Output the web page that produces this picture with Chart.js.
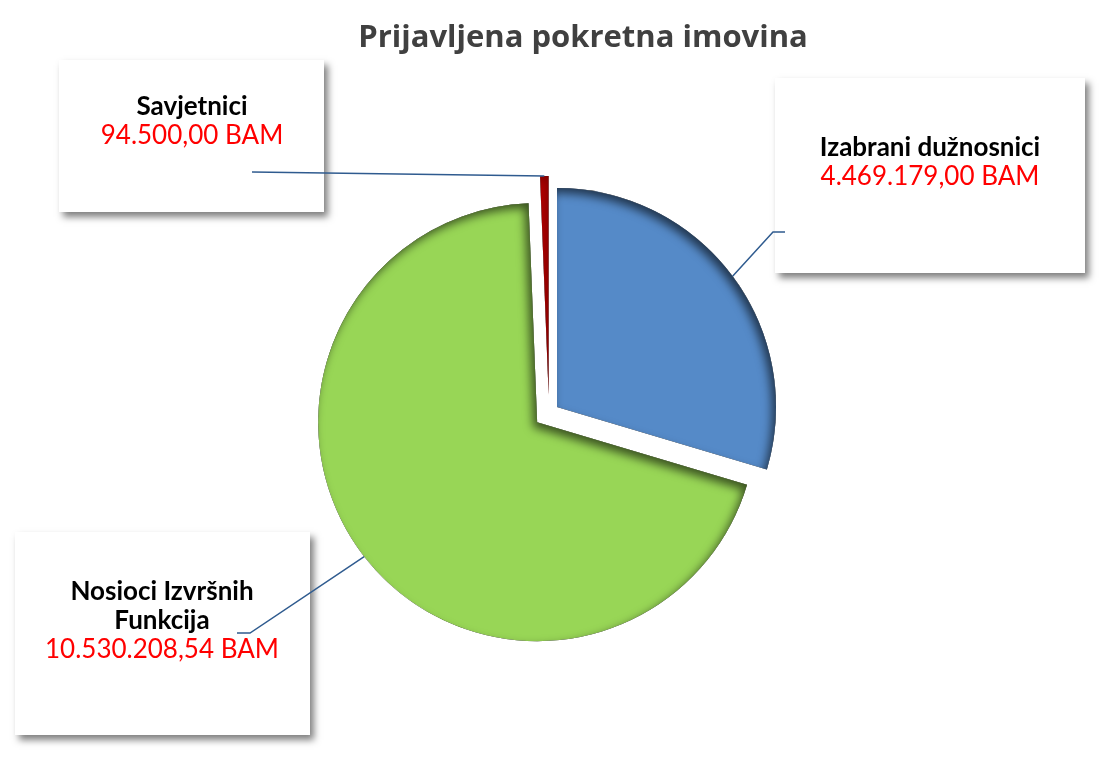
<!DOCTYPE html>
<html><head><meta charset="utf-8">
<script src="https://cdn.jsdelivr.net/npm/chart.js@4/dist/chart.umd.min.js"></script>
<style>html,body{margin:0;padding:0;background:#fff;} #wrap{position:relative;width:1104px;height:769px;}</style>
</head><body><div id="wrap"><canvas id="c" width="1104" height="769"></canvas></div>
<script>
const chartTitle = 'Prijavljena pokretna imovina';
const categories = ['Izabrani dužnosnici', 'Nosioci Izvršnih Funkcija', 'Savjetnici'];
const labelLines = [['Izabrani dužnosnici'], ['Nosioci Izvršnih', 'Funkcija'], ['Savjetnici']];
const values = [4469179.00, 10530208.54, 94500.00];
const currency = 'BAM';
const colors = ['#558AC8', '#98D656', '#C00000'];
const offsets = [40, 60, 72];
const innerShadowAlpha = [0.6, 0.6, 0.3];

const pieRadius = 219;
const callouts = [
  {x:775, y:78,  w:310, h:195, tx:930, ty:148, elbow:[773,232], end:[785,232]},
  {x:15,  y:532, w:295, h:203, tx:162, ty:592, elbow:[250,633], end:[237,633]},
  {x:59,  y:60,  w:265, h:152, tx:192, ty:107, elbow:null,      end:[252,172]}
];
const labelFont = 'Lato, "DejaVu Sans", sans-serif';

function fmt(v){
  const parts = v.toFixed(2).split('.');
  return parts[0].replace(/\B(?=(\d{3})+(?!\d))/g, '.') + ',' + parts[1] + ' ' + currency;
}

function sliceParams(arc){
  const t = (arc.options.offset || 0) / 4;
  const fix = 1 - Math.sin(Math.min(Math.PI, arc.circumference));
  const rOff = t * fix;
  const trim = rOff / (2 * Math.PI * pieRadius);
  return {t, rOff, trim};
}

function arcGeom(arc){
  const {t, trim} = sliceParams(arc);
  const s = arc.startAngle + trim, e = arc.endAngle - trim;
  const mid = (s + e) / 2;
  return {cx: arc.x + Math.cos(mid) * t, cy: arc.y + Math.sin(mid) * t, r: pieRadius, s, e, mid};
}

// keep every exploded slice at the same visible radius and full angular width
const radiusPlugin = {
  id: 'equalRadius',
  afterUpdate(chart){
    chart.getDatasetMeta(0).data.forEach((arc) => {
      const {rOff, trim} = sliceParams(arc);
      arc.outerRadius = pieRadius - rOff;
      arc.startAngle -= trim;
      arc.endAngle += trim;
    });
  }
};

const innerShadowPlugin = {
  id: 'innerShadow',
  afterDatasetsDraw(chart){
    const ctx = chart.ctx;
    chart.getDatasetMeta(0).data.forEach((arc, i) => {
      const g = arcGeom(arc);
      ctx.save();
      ctx.beginPath();
      ctx.moveTo(g.cx, g.cy);
      ctx.arc(g.cx, g.cy, g.r, g.s, g.e);
      ctx.closePath();
      ctx.clip();
      ctx.beginPath();
      ctx.rect(-2000, -2000, 5000, 5000);
      ctx.moveTo(g.cx, g.cy);
      ctx.arc(g.cx, g.cy, g.r, g.s, g.e);
      ctx.closePath();
      ctx.shadowColor = 'rgba(0,0,0,' + innerShadowAlpha[i] + ')';
      ctx.shadowBlur = 10;
      ctx.shadowOffsetX = -4;
      ctx.shadowOffsetY = 5;
      ctx.fillStyle = '#000';
      ctx.fill('evenodd');
      ctx.restore();
    });
  }
};

const calloutPlugin = {
  id: 'callouts',
  afterDatasetsDraw(chart){
    const ctx = chart.ctx;
    chart.getDatasetMeta(0).data.forEach((arc, i) => {
      const c = callouts[i];
      ctx.save();
      ctx.shadowColor = 'rgba(0,0,0,0.5)';
      ctx.shadowBlur = 7;
      ctx.shadowOffsetX = 4;
      ctx.shadowOffsetY = 5;
      ctx.fillStyle = '#ffffff';
      ctx.fillRect(c.x, c.y, c.w, c.h);
      ctx.restore();
      ctx.save();
      ctx.textAlign = 'center';
      ctx.textBaseline = 'middle';
      let y = c.ty;
      ctx.fillStyle = '#000000';
      ctx.font = 'bold 26px ' + labelFont;
      labelLines[i].forEach(line => { ctx.fillText(line, c.tx, y); y += 29; });
      ctx.fillStyle = '#FF0000';
      ctx.font = '26px ' + labelFont;
      ctx.fillText(fmt(values[i]), c.tx, y);
      ctx.restore();
      const g = arcGeom(arc);
      const px = g.cx + Math.cos(g.mid) * g.r;
      const py = g.cy + Math.sin(g.mid) * g.r;
      ctx.save();
      ctx.strokeStyle = '#2F5B8F';
      ctx.lineWidth = 1.5;
      ctx.beginPath();
      ctx.moveTo(px, py);
      if (c.elbow) ctx.lineTo(c.elbow[0], c.elbow[1]);
      ctx.lineTo(c.end[0], c.end[1]);
      ctx.stroke();
      ctx.restore();
    });
  },
  afterDraw(chart){
    const ctx = chart.ctx;
    ctx.save();
    ctx.fillStyle = '#404040';
    ctx.font = 'bold 31px "Open Sans", sans-serif';
    ctx.textAlign = 'center';
    ctx.textBaseline = 'middle';
    ctx.fillText(chartTitle, 583, 38);
    ctx.restore();
  }
};

new Chart(document.getElementById('c'), {
  type: 'pie',
  data: {
    labels: categories,
    datasets: [{
      data: values,
      borderWidth: 0,
      offset: offsets,
      backgroundColor: colors
    }]
  },
  options: {
    responsive: false,
    animation: false,
    devicePixelRatio: 1,
    radius: pieRadius,
    layout: { padding: { left: 0, right: 6, top: 57, bottom: 0 } },
    plugins: { legend: { display: false }, tooltip: { enabled: false }, title: { display: false } }
  },
  plugins: [radiusPlugin, innerShadowPlugin, calloutPlugin]
});
</script>
</body></html>
